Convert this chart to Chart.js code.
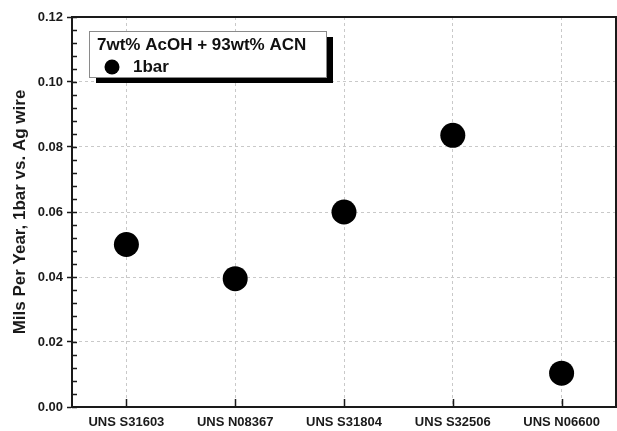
<!DOCTYPE html>
<html>
<head>
<meta charset="utf-8">
<script src="https://cdn.jsdelivr.net/npm/chart.js@4/dist/chart.umd.min.js"></script>
<style>
  html, body { margin: 0; padding: 0; background: #ffffff; }
  #wrap { width: 617px; height: 431px; }
</style>
</head>
<body>
<div id="wrap"><canvas id="c" width="617" height="431"></canvas></div>
<script>
// Alloy grades tested
const categories = ['UNS S31603', 'UNS N08367', 'UNS S31804', 'UNS S32506', 'UNS N06600'];
// Corrosion rate at 1 bar (mils per year)
const mpy1bar = [0.050, 0.0395, 0.060, 0.0836, 0.0104];
const seriesName = '1bar';
const legendTitle = '7wt% AcOH + 93wt% ACN';
const yTitle = 'Mils Per Year, 1bar vs. Ag wire';
const yMin = 0, yMax = 0.12, yMajor = 0.02, yMinor = 0.004;

const FONT = "'Liberation Sans', Arial, Helvetica, sans-serif";
const INK = '#1a1a1a';

// Frame, inner minor ticks and category ticks
const framePlugin = {
  id: 'frame',
  afterDraw(chart) {
    const { ctx, chartArea: a, scales } = chart;
    ctx.save();
    ctx.strokeStyle = INK;
    ctx.lineWidth = 1.5;
    // minor ticks pointing into the plot
    const ys = scales.y;
    const n = Math.round((yMax - yMin) / yMinor);
    ctx.beginPath();
    for (let i = 0; i <= n; i++) {
      const py = Math.round(ys.getPixelForValue(yMin + i * yMinor)) + 0.5;
      ctx.moveTo(a.left, py);
      ctx.lineTo(a.left + 5, py);
    }
    // category ticks pointing up from the x axis
    const xs = scales.x;
    categories.forEach((_, i) => {
      const px = Math.round(xs.getPixelForValue(i)) + 0.5;
      ctx.moveTo(px, a.bottom);
      ctx.lineTo(px, a.bottom - 8);
    });
    ctx.stroke();
    // top and right edges of the box
    ctx.lineWidth = 2;
    ctx.beginPath();
    ctx.moveTo(a.left, a.top);
    ctx.lineTo(a.right, a.top);
    ctx.lineTo(a.right, a.bottom);
    ctx.stroke();
    ctx.restore();
  }
};

// Boxed legend with drop shadow in the upper-left corner
const legendBoxPlugin = {
  id: 'legendBox',
  afterDatasetsDraw(chart) {
    const { ctx } = chart;
    const ds = chart.data.datasets[0];
    const bx = 89, by = 31, bw = 237, bh = 46;
    ctx.save();
    ctx.fillStyle = '#000000';
    ctx.fillRect(bx + 7, by + 6, bw, bh);
    ctx.fillStyle = '#ffffff';
    ctx.fillRect(bx, by, bw, bh);
    ctx.strokeStyle = '#8a8a8a';
    ctx.lineWidth = 1;
    ctx.strokeRect(bx + 0.5, by + 0.5, bw, bh);
    ctx.fillStyle = '#111111';
    ctx.font = 'bold 17px ' + FONT;
    ctx.textBaseline = 'middle';
    ctx.textAlign = 'left';
    ctx.fillText(legendTitle, bx + 8, by + 14);
    ctx.beginPath();
    ctx.arc(bx + 23, by + 36, 7.5, 0, Math.PI * 2);
    ctx.fillStyle = ds.backgroundColor;
    ctx.fill();
    ctx.fillStyle = '#111111';
    ctx.fillText(ds.label, bx + 44, by + 36);
    ctx.restore();
  }
};

new Chart(document.getElementById('c'), {
  type: 'line',
  data: {
    labels: categories,
    datasets: [{
      label: seriesName,
      data: mpy1bar,
      showLine: false,
      backgroundColor: '#000000',
      borderColor: '#000000',
      pointRadius: 12.5,
      pointHoverRadius: 12.5,
      pointBorderWidth: 0
    }]
  },
  options: {
    responsive: false,
    animation: false,
    events: [],
    layout: { autoPadding: false, padding: { top: 17, right: 1, left: 0, bottom: 0 } },
    plugins: {
      legend: { display: false },
      tooltip: { enabled: false }
    },
    scales: {
      x: {
        type: 'category',
        offset: true,
        grid: {
          offset: false,
          color: '#c9c9c9',
          lineWidth: 1,
          drawTicks: false
        },
        border: { display: true, color: INK, width: 2, dash: [3, 3] },
        ticks: {
          color: INK,
          padding: 8,
          font: { family: FONT, size: 13, weight: 'bold' },
          maxRotation: 0,
          autoSkip: false
        },
        afterFit(s) {
          s.height = 24;
          s.paddingLeft = 0;
          s.paddingRight = 0;
        }
      },
      y: {
        min: yMin,
        max: yMax,
        grid: {
          color: '#c9c9c9',
          lineWidth: 1,
          drawTicks: true,
          tickLength: 5,
          tickColor: INK,
          tickWidth: 1.5
        },
        border: { display: true, color: INK, width: 2, dash: [3, 3] },
        ticks: {
          stepSize: yMajor,
          color: INK,
          padding: 4,
          font: { family: FONT, size: 13, weight: 'bold' },
          callback: (v) => Number(v).toFixed(2)
        },
        title: {
          display: true,
          text: yTitle,
          color: INK,
          font: { family: FONT, size: 17, weight: 'bold' },
          padding: { top: 10, bottom: 0 }
        },
        afterFit(s) {
          s.width = 72;
          s.paddingTop = 0;
          s.paddingBottom = 0;
        }
      }
    }
  },
  plugins: [framePlugin, legendBoxPlugin]
});
</script>
</body>
</html>
